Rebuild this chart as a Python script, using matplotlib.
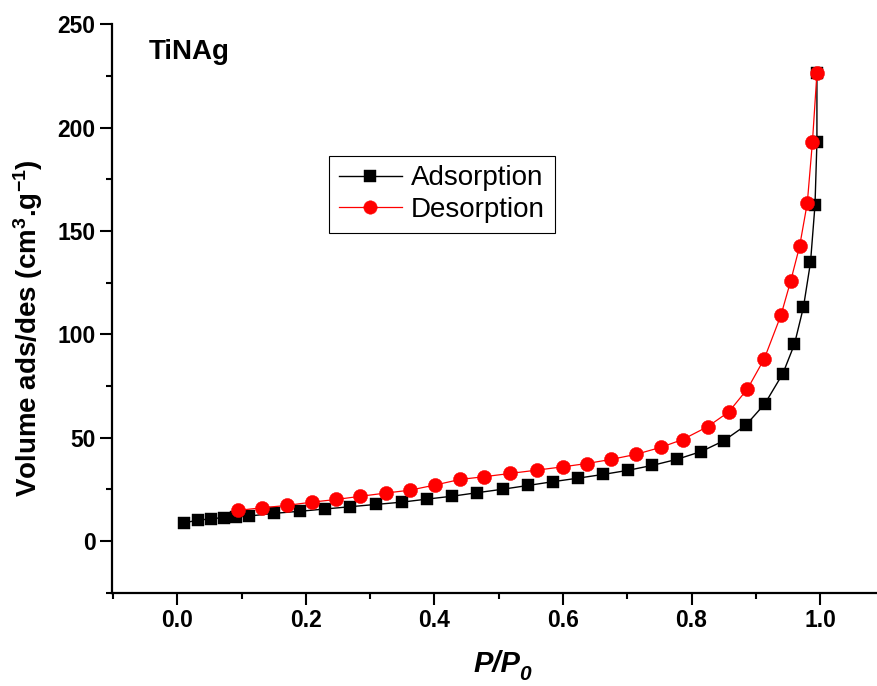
import numpy as np
import matplotlib
matplotlib.use("Agg")
import matplotlib.pyplot as plt
from matplotlib.ticker import MultipleLocator

plt.rcParams["font.family"] = ["Liberation Sans", "DejaVu Sans"]
plt.rcParams["font.weight"] = "bold"
plt.rcParams["mathtext.fontset"] = "custom"
plt.rcParams["mathtext.rm"] = "Liberation Sans:bold"
plt.rcParams["mathtext.it"] = "Liberation Sans:italic:bold"
plt.rcParams["mathtext.bf"] = "Liberation Sans:bold"

# adsorption branch (P/P0, volume)
p_ads = [0.011, 0.032, 0.052, 0.072, 0.091, 0.112, 0.151, 0.191, 0.230, 0.269,
         0.309, 0.349, 0.389, 0.428, 0.467, 0.507, 0.546, 0.584, 0.623, 0.662,
         0.701, 0.739, 0.777, 0.815, 0.850, 0.884, 0.914, 0.942, 0.960, 0.974,
         0.985, 0.992, 0.995, 0.995]
v_ads = [8.9, 10.0, 10.8, 11.3, 11.6, 12.1, 13.4, 14.4, 15.5, 16.6,
         17.7, 18.8, 20.3, 21.7, 23.4, 25.1, 26.9, 28.7, 30.4, 32.2,
         34.2, 36.6, 39.5, 43.3, 48.5, 55.9, 66.4, 81.0, 95.2, 113.1,
         134.8, 162.5, 193.0, 226.3]

# desorption branch
p_des = [0.094, 0.132, 0.170, 0.209, 0.247, 0.284, 0.324, 0.362, 0.401, 0.440,
         0.477, 0.518, 0.559, 0.600, 0.637, 0.675, 0.713, 0.752, 0.786, 0.825,
         0.858, 0.887, 0.913, 0.939, 0.954, 0.968, 0.980, 0.988, 0.995]
v_des = [14.8, 16.1, 17.2, 18.8, 20.1, 21.6, 23.2, 24.6, 27.1, 29.8,
         31.1, 32.7, 34.3, 35.9, 37.5, 39.5, 41.9, 45.3, 49.1, 55.3,
         62.5, 73.6, 88.1, 109.2, 125.6, 142.5, 163.5, 193.0, 226.3]

x_ticks = [0.0, 0.2, 0.4, 0.6, 0.8, 1.0]
x_labels = ["0.0", "0.2", "0.4", "0.6", "0.8", "1.0"]
y_ticks = [0, 50, 100, 150, 200, 250]

W, H = 878, 686
fig = plt.figure(figsize=(W / 100, H / 100), dpi=100)
ax = fig.add_axes([112.3 / W, 1 - 592.7 / H, (W - 112.3) / W, (592.7 - 24.3) / H])

ax.plot(p_ads, v_ads, color="black", lw=1.0, marker="s", ms=8.6,
        mec="black", mew=0.3, label="Adsorption")
ax.plot(p_des, v_des, color="#ff0000", lw=0.9, marker="o", ms=10.2,
        mec="#ff0000", mew=0.3, label="Desorption")

ax.set_xlim(-0.101, 1.09)
ax.set_ylim(-25, 250)
ax.xaxis.set_minor_locator(MultipleLocator(0.1))
ax.yaxis.set_minor_locator(MultipleLocator(25))
ax.set_xticks(x_ticks)
ax.set_xticklabels(x_labels)
ax.set_yticks(y_ticks)

for s in ["top", "right"]:
    ax.spines[s].set_visible(False)
for s in ["left", "bottom"]:
    ax.spines[s].set_linewidth(1.6)

ax.tick_params(which="major", direction="out", length=8.5, width=1.5,
               labelsize=16.5, pad=3.5)
ax.tick_params(which="minor", direction="out", length=4.3, width=1.5)

ax.text(0.047, 0.9384, "TiNAg", transform=ax.transAxes, fontsize=20,
        ha="left", va="baseline")

fig.text(28 / W, 1 - 328.5 / H, "Volume ads/des (cm$^3$.g$^{-1}$)",
         rotation=90, ha="center", va="center", fontsize=20)

fig.text(473.3 / W, 1 - 672 / H, "P/P", fontsize=21, style="italic",
         ha="left", va="baseline")
fig.text(519 / W, 1 - 680 / H, "0", fontsize=15, style="italic",
         ha="left", va="baseline")

leg = ax.legend(loc="upper left", bbox_to_anchor=(0.2834, 0.7688),
                borderaxespad=0, prop={"weight": "normal", "size": 20},
                fancybox=False, framealpha=1, edgecolor="black",
                borderpad=0.35, labelspacing=0.2, handlelength=2.25,
                handletextpad=0.35, markerscale=0.95)
leg.get_frame().set_linewidth(0.8)

fig.savefig("out.png", dpi=100)
